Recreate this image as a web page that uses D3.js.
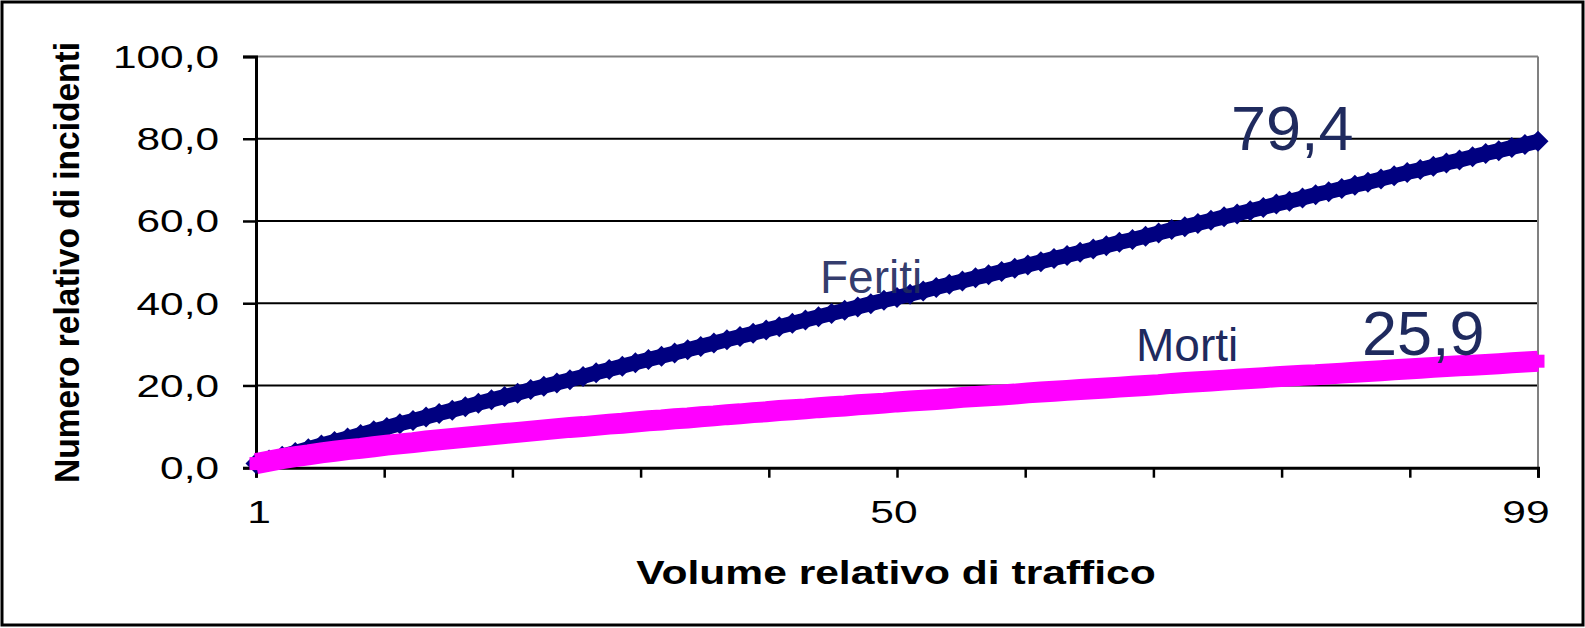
<!DOCTYPE html>
<html>
<head>
<meta charset="utf-8">
<script src="https://cdn.jsdelivr.net/npm/d3@7"></script>
<style>
  html, body { margin: 0; padding: 0; background: #fff; }
  svg { display: block; }
  text { font-family: "Liberation Sans", Arial, sans-serif; }
</style>
</head>
<body>
<svg id="chart" width="1585" height="628"></svg>
<script>
// Relative traffic volume (categories 1..99)
const categories = d3.range(1, 100);

// Relative number of injured people ("Feriti")
const feriti = [
  1.0, 1.9, 2.8, 3.7, 4.6, 5.5, 6.4, 7.2, 8.1, 9.0,
  9.8, 10.7, 11.5, 12.3, 13.2, 14.0, 14.8, 15.7, 16.5, 17.3,
  18.1, 19.0, 19.8, 20.6, 21.4, 22.2, 23.1, 23.9, 24.7, 25.5,
  26.3, 27.1, 27.9, 28.7, 29.5, 30.3, 31.1, 31.9, 32.7, 33.5,
  34.3, 35.1, 35.9, 36.7, 37.5, 38.3, 39.1, 39.9, 40.7, 41.4,
  42.2, 43.0, 43.8, 44.6, 45.4, 46.2, 46.9, 47.7, 48.5, 49.3,
  50.1, 50.9, 51.6, 52.4, 53.2, 54.0, 54.8, 55.5, 56.3, 57.1,
  57.9, 58.6, 59.4, 60.2, 61.0, 61.7, 62.5, 63.3, 64.1, 64.8,
  65.6, 66.4, 67.1, 67.9, 68.7, 69.4, 70.2, 71.0, 71.8, 72.5,
  73.3, 74.1, 74.8, 75.6, 76.4, 77.1, 77.9, 78.6, 79.4
];

// Relative number of deaths ("Morti")
const morti = [
  1.0, 1.6, 2.2, 2.7, 3.1, 3.6, 4.0, 4.4, 4.7, 5.1,
  5.5, 5.8, 6.1, 6.5, 6.8, 7.1, 7.4, 7.7, 8.0, 8.3,
  8.6, 8.9, 9.2, 9.5, 9.8, 10.0, 10.3, 10.6, 10.8, 11.1,
  11.4, 11.6, 11.9, 12.1, 12.4, 12.6, 12.9, 13.1, 13.4, 13.6,
  13.9, 14.1, 14.3, 14.6, 14.8, 15.0, 15.3, 15.5, 15.7, 16.0,
  16.2, 16.4, 16.6, 16.8, 17.1, 17.3, 17.5, 17.7, 17.9, 18.2,
  18.4, 18.6, 18.8, 19.0, 19.2, 19.4, 19.6, 19.8, 20.0, 20.2,
  20.5, 20.7, 20.9, 21.1, 21.3, 21.5, 21.7, 21.9, 22.1, 22.3,
  22.5, 22.6, 22.8, 23.0, 23.2, 23.4, 23.6, 23.8, 24.0, 24.2,
  24.4, 24.6, 24.8, 24.9, 25.1, 25.3, 25.5, 25.7, 25.9
];

const seriesNames = ["Feriti", "Morti"];
const yTickValues = [0, 20, 40, 60, 80, 100];
const xTickLabels = ["1", "50", "99"];
const xTitle = "Volume relativo di traffico";
const yTitle = "Numero relativo di incidenti";

const svg = d3.select("#chart");
const W = 1585, H = 628;
const plot = { left: 256, right: 1538, top: 56.5, bottom: 467.7 };

const x = d3.scaleLinear().domain([1, 99]).range([plot.left, plot.right]);
const y = d3.scaleLinear().domain([0, 100]).range([plot.bottom, plot.top]);
const fmtIt = v => d3.format(".1f")(v).replace(".", ",");

// outer frame
svg.append("rect")
  .attr("x", 2).attr("y", 2).attr("width", W - 4).attr("height", H - 5)
  .attr("fill", "#fff").attr("stroke", "#000").attr("stroke-width", 3);

// horizontal gridlines
svg.append("g").selectAll("line")
  .data(yTickValues.filter(v => v > 0))
  .join("line")
  .attr("x1", plot.left).attr("x2", plot.right)
  .attr("y1", d => y(d)).attr("y2", d => y(d))
  .attr("stroke", d => d === 100 ? "#808080" : "#000")
  .attr("stroke-width", 2);

// right border of plot area
svg.append("line")
  .attr("x1", plot.right).attr("x2", plot.right)
  .attr("y1", y(100)).attr("y2", y(0))
  .attr("stroke", "#808080").attr("stroke-width", 2);

// y axis
const yAxis = d3.axisLeft(y).tickValues(yTickValues).tickSize(13).tickFormat("");
const gy = svg.append("g").attr("transform", `translate(${plot.left},0)`).call(yAxis);
gy.select(".domain").attr("stroke", "#000").attr("stroke-width", 3);
gy.selectAll(".tick line").attr("stroke", "#000").attr("stroke-width", 2.5);

// y tick labels (wide, stretched horizontally)
svg.append("g").selectAll("text")
  .data(yTickValues)
  .join("text")
  .attr("transform", d => `translate(219,${y(d) + 11.5}) scale(1.39,1)`)
  .attr("text-anchor", "end")
  .attr("font-size", 30.5)
  .attr("fill", "#000")
  .text(d => fmtIt(d));

// x axis
const xTicks = d3.range(11).map(i => 1 + i * 9.8);
const xAxis = d3.axisBottom(x).tickValues(xTicks).tickSize(10).tickFormat("");
const gx = svg.append("g").attr("transform", `translate(0,${plot.bottom})`).call(xAxis);
gx.select(".domain").attr("stroke", "#000").attr("stroke-width", 3);
gx.selectAll(".tick line").attr("stroke", "#000").attr("stroke-width", 2.5);

// x tick labels
const xLabelVals = xTickLabels.map(Number);
svg.append("g").selectAll("text")
  .data(xLabelVals)
  .join("text")
  .attr("transform", (d, i) => `translate(${x(d) + (i === 2 ? -12 : (i === 1 ? -3 : 3))},523) scale(1.33,1)`)
  .attr("text-anchor", "middle")
  .attr("font-size", 32)
  .attr("fill", "#000")
  .text(d => String(d));

// axis titles
svg.append("text")
  .attr("transform", `translate(${(plot.left + plot.right) / 2 - 1},584) scale(1.29,1)`)
  .attr("text-anchor", "middle")
  .attr("font-size", 33).attr("font-weight", "bold")
  .attr("fill", "#000")
  .text(xTitle);

svg.append("text")
  .attr("transform", `translate(79,262.5) scale(1.06,1) rotate(-90)`)
  .attr("text-anchor", "middle")
  .attr("font-size", 33.5).attr("font-weight", "bold")
  .attr("fill", "#000")
  .text(yTitle);

const line = d3.line().x((d, i) => x(categories[i])).y(d => y(d));

// Feriti: navy line with diamond markers
svg.append("path")
  .datum(feriti)
  .attr("d", line)
  .attr("fill", "none").attr("stroke", "#000080").attr("stroke-width", 15);
const dH = 10.5;
svg.append("g").selectAll("path")
  .data(feriti)
  .join("path")
  .attr("d", (d, i) => {
    const cx = x(categories[i]), cy = y(d);
    return `M${cx},${cy - dH}L${cx + dH},${cy}L${cx},${cy + dH}L${cx - dH},${cy}Z`;
  })
  .attr("fill", "#000080");

// Morti: thick magenta line with square markers
svg.append("path")
  .datum(morti)
  .attr("d", line)
  .attr("fill", "none").attr("stroke", "#ff00ff").attr("stroke-width", 21)
  .attr("stroke-linecap", "butt");
const sq = 13;
svg.append("g").selectAll("rect")
  .data(morti)
  .join("rect")
  .attr("x", (d, i) => x(categories[i]) - sq / 2)
  .attr("y", d => y(d) - sq / 2)
  .attr("width", sq).attr("height", sq)
  .attr("fill", "#ff00ff");

// series names and end values
const labelColor = "#1f2a5e";
const lastF = feriti[feriti.length - 1];
const lastM = morti[morti.length - 1];

svg.append("text")
  .attr("x", 820).attr("y", 293)
  .attr("font-size", 46).attr("fill", labelColor).attr("fill-opacity", 0.92)
  .text(seriesNames[0]);
svg.append("text")
  .attr("x", 1136).attr("y", 361)
  .attr("font-size", 46).attr("fill", labelColor)
  .text(seriesNames[1]);
svg.append("text")
  .attr("x", 1231).attr("y", 150)
  .attr("font-size", 63).attr("fill", labelColor)
  .text(fmtIt(lastF));
svg.append("text")
  .attr("x", 1362).attr("y", 355)
  .attr("font-size", 63).attr("fill", labelColor)
  .text(fmtIt(lastM));
</script>
</body>
</html>
